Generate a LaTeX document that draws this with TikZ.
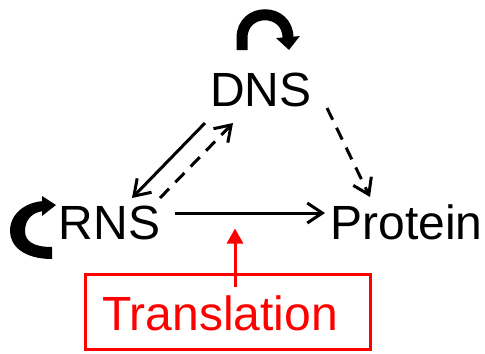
\documentclass[tikz,border=0pt]{standalone}
\usepackage{fontspec}
\setmainfont{Liberation Sans}
\usetikzlibrary{arrows.meta,calc}
\begin{document}
\begin{tikzpicture}[x=1bp,y=-1bp,
  term/.style={inner sep=0pt, anchor=base, font=\fontsize{48bp}{58bp}\selectfont},
  link/.style={line width=3bp, -{Straight Barb[length=15bp,width=20bp]}},
  dashlink/.style={link, dash pattern=on 13bp off 9bp},
  loopline/.style={line width=11bp, -{Triangle[length=13bp,width=23bp]}},
  tframe/.style={draw=red, line width=3bp, minimum width=285bp, minimum height=75bp, inner sep=0pt},
  redlink/.style={red, line width=3bp, -{Triangle[length=15bp,width=16bp]}}]
  \useasboundingbox (0,0) rectangle (485,353);

  % molecules
  \node[term] (dns) at (261,106) {DNS};
  \node[term] (rns) at (109.5,239) {RNS};
  \node[term] (prot) at (406.5,239) {Protein};

  % translation box
  \node[tframe] (box) at (228,312) {};
  \node[term, text=red] (trans) at (220,330) {Translation};

  % self-replication of DNS
  \begin{scope}[shift={(dns.base)}]
    \draw[loopline] (-19,-56) -- (-19,-68) .. controls (-19,-99) and (27,-99) .. (27,-68) -- (28,-56);
  \end{scope}

  % self-replication of RNS (tapered crescent with head)
  \begin{scope}[shift={(rns.base)}]
    \fill (-57.5,20) .. controls (-85.5,20) and (-99.5,7) .. (-99.5,-8)
          .. controls (-99.5,-25) and (-84.5,-37) .. (-65.5,-38)
          -- (-65.5,-28)
          .. controls (-77.5,-27) and (-84.5,-19) .. (-84.5,-8)
          .. controls (-84.5,2) and (-76.5,8) .. (-57.5,8) -- cycle;
    \fill (-67.5,-43) -- (-53.5,-34) -- (-67.5,-23) -- cycle;
  \end{scope}

  % information flow
  \draw[link] ($(dns.base)+(-56,17)$) -- ($(rns.base)+(22.5,-41)$);
  \draw[dashlink] ($(rns.base)+(50.5,-41)$) -- ($(dns.base)+(-28,17)$);
  \draw[dashlink] ($(dns.base)+(66,2)$) -- ($(prot.base)+(-36.5,-42)$);
  \draw[link] ($(rns.base)+(65.5,-26)$) -- ($(prot.base)+(-81.5,-26)$);

  % translation acts on the RNS -> Protein step
  \draw[redlink] ($(box.north)+(7,13.5)$) -- ($(box.north)+(7,-44.5)$);
\end{tikzpicture}
\end{document}
